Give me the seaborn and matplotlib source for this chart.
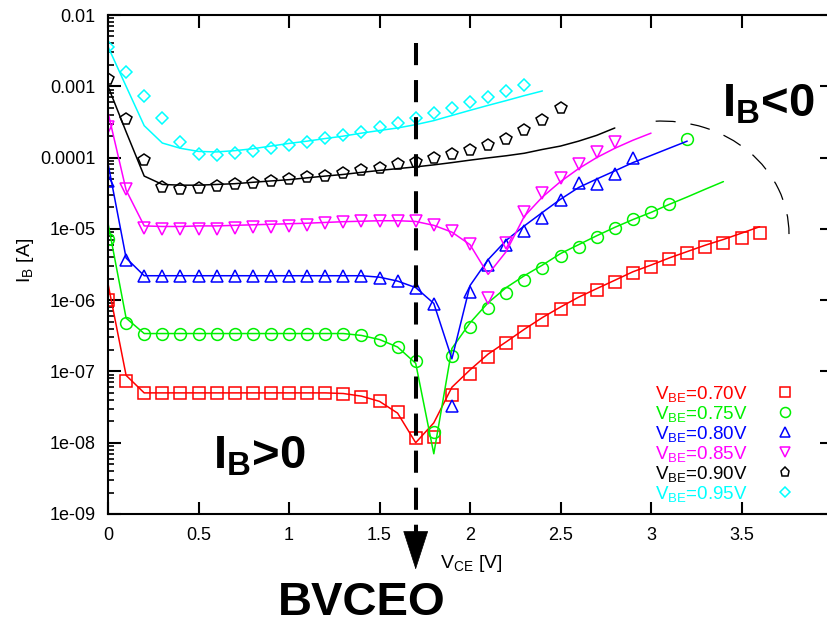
import numpy as np
import matplotlib
matplotlib.use("Agg")
import matplotlib.pyplot as plt
import seaborn as sns
from matplotlib.lines import Line2D
from matplotlib.patches import Arc
from matplotlib.ticker import FixedLocator, FixedFormatter, LogLocator, NullLocator, NullFormatter

sns.set_theme(style="ticks")
plt.rcParams["font.family"] = ["Liberation Sans", "DejaVu Sans"]
plt.rcParams["mathtext.fontset"] = "custom"
plt.rcParams["mathtext.rm"] = "Liberation Sans"
plt.rcParams["mathtext.it"] = "Liberation Sans:italic"
plt.rcParams["mathtext.bf"] = "Liberation Sans:bold"
for key in ["text.color", "axes.labelcolor", "xtick.color", "ytick.color", "axes.edgecolor"]:
    plt.rcParams[key] = "black"

# V_CE sweep grid [V]
vce = np.round(np.arange(0, 37) * 0.1, 1)

# Measured base current I_B [A] per V_BE (markers)
meas_070 = [1.0e-6, 7.3e-8] + [5.0e-8] * 11 + [4.9e-8, 4.4e-8, 3.9e-8, 2.7e-8, 1.15e-8, 1.2e-8,
            4.6e-8, 9.3e-8, 1.6e-7, 2.5e-7, 3.6e-7, 5.2e-7, 7.6e-7, 1.04e-6, 1.38e-6, 1.8e-6,
            2.4e-6, 2.9e-6, 3.8e-6, 4.6e-6, 5.6e-6, 6.3e-6, 7.4e-6, 8.7e-6]
meas_075 = [7.2e-6, 4.8e-7] + [3.4e-7] * 12 + [3.2e-7, 2.8e-7, 2.2e-7, 1.4e-7, 1.4e-8, 1.65e-7,
            4.2e-7, 7.7e-7, 1.26e-6, 1.9e-6, 2.8e-6, 4.1e-6, 5.6e-6, 7.8e-6, 1.03e-5, 1.37e-5,
            1.7e-5, 2.2e-5, 1.8e-4]
meas_080 = [4.7e-5, 3.6e-6] + [2.15e-6] * 13 + [2.05e-6, 1.85e-6, 1.5e-6, 8.9e-7, 3.3e-8, 1.3e-6,
            3.1e-6, 5.9e-6, 9.3e-6, 1.4e-5, 2.5e-5, 4.4e-5, 4.3e-5, 5.9e-5, 9.8e-5]
meas_085 = [2.7e-4, 3.6e-5, 1.03e-5, 1.0e-5, 1.0e-5, 1.0e-5, 1.0e-5, 1.03e-5, 1.05e-5, 1.07e-5,
            1.1e-5, 1.15e-5, 1.2e-5, 1.25e-5, 1.28e-5, 1.3e-5, 1.3e-5, 1.28e-5, 1.12e-5, 9.3e-6,
            6.1e-6, 1.07e-6, 6.3e-6, 1.7e-5, 3.2e-5, 5.2e-5, 8.1e-5, 1.2e-4, 1.66e-4]
meas_090 = [1.26e-3, 3.5e-4, 9.3e-5, 3.9e-5, 3.6e-5, 3.8e-5, 4.0e-5, 4.2e-5, 4.4e-5, 4.7e-5,
            5.0e-5, 5.3e-5, 5.6e-5, 6.0e-5, 6.6e-5, 7.2e-5, 8.0e-5, 8.6e-5, 9.9e-5, 1.12e-4,
            1.28e-4, 1.5e-4, 1.8e-4, 2.4e-4, 3.4e-4, 5.0e-4]
meas_095 = [3.6e-3, 1.6e-3, 7.4e-4, 3.6e-4, 1.65e-4, 1.12e-4, 1.1e-4, 1.17e-4, 1.25e-4, 1.35e-4,
            1.5e-4, 1.65e-4, 1.9e-4, 2.1e-4, 2.3e-4, 2.7e-4, 3.05e-4, 3.6e-4, 4.2e-4, 5.0e-4,
            6.0e-4, 7.1e-4, 8.6e-4, 1.04e-3]

# Simulated base current I_B [A] per V_BE (lines)
sim_070 = [1.7e-6, 8.8e-8] + [5.0e-8] * 11 + [4.9e-8, 4.5e-8, 3.8e-8, 2.6e-8, 1.0e-8, 1.9e-8,
           6.0e-8, 1.05e-7, 1.75e-7, 2.6e-7, 3.9e-7, 5.7e-7, 8.0e-7, 1.1e-6, 1.45e-6, 1.9e-6,
           2.5e-6, 3.1e-6, 3.9e-6, 4.8e-6, 5.9e-6, 7.1e-6, 8.7e-6, 1.07e-5]
sim_075 = [1.2e-5, 5.6e-7] + [3.4e-7] * 12 + [3.2e-7, 2.8e-7, 2.2e-7, 1.3e-7, 7.0e-9, 2.1e-7,
           4.8e-7, 9.2e-7, 1.5e-6, 2.2e-6, 3.1e-6, 4.5e-6, 6.0e-6, 8.0e-6, 1.05e-5, 1.35e-5,
           1.7e-5, 2.2e-5, 2.8e-5, 3.6e-5, 4.6e-5]
sim_080 = [8.3e-5, 3.9e-6] + [2.2e-6] * 13 + [2.1e-6, 1.85e-6, 1.5e-6, 9.0e-7, 1.5e-7, 1.6e-6,
           3.7e-6, 6.9e-6, 1.1e-5, 1.7e-5, 2.6e-5, 3.8e-5, 5.0e-5, 6.5e-5, 8.5e-5, 1.07e-4,
           1.35e-4, 1.7e-4]
sim_085 = [4.3e-4, 3.5e-5, 1.1e-5, 1.08e-5, 1.08e-5, 1.1e-5, 1.1e-5, 1.12e-5, 1.14e-5, 1.16e-5,
           1.18e-5, 1.2e-5, 1.23e-5, 1.26e-5, 1.28e-5, 1.3e-5, 1.3e-5, 1.27e-5, 1.12e-5, 9.0e-6,
           6.0e-6, 2.3e-6, 4.8e-6, 1.5e-5, 2.8e-5, 4.6e-5, 7.0e-5, 1.0e-4, 1.35e-4, 1.75e-4, 2.2e-4]
sim_090 = [1.0e-3, 2.3e-4, 5.5e-5, 4.2e-5, 4.1e-5, 4.1e-5, 4.2e-5, 4.3e-5, 4.5e-5, 4.7e-5,
           4.9e-5, 5.2e-5, 5.5e-5, 5.8e-5, 6.2e-5, 6.6e-5, 7.0e-5, 7.4e-5, 7.9e-5, 8.5e-5,
           9.2e-5, 9.9e-5, 1.06e-4, 1.15e-4, 1.3e-4, 1.45e-4, 1.7e-4, 2.05e-4, 2.6e-4]
sim_095 = [3.6e-3, 1.0e-3, 2.8e-4, 1.6e-4, 1.35e-4, 1.22e-4, 1.2e-4, 1.25e-4, 1.33e-4, 1.45e-4,
           1.58e-4, 1.7e-4, 1.85e-4, 2.0e-4, 2.2e-4, 2.4e-4, 2.6e-4, 2.9e-4, 3.3e-4, 3.9e-4,
           4.6e-4, 5.4e-4, 6.3e-4, 7.4e-4, 8.6e-4]

labels = [r"V$_{\mathrm{BE}}$=0.70V", r"V$_{\mathrm{BE}}$=0.75V", r"V$_{\mathrm{BE}}$=0.80V",
          r"V$_{\mathrm{BE}}$=0.85V", r"V$_{\mathrm{BE}}$=0.90V", r"V$_{\mathrm{BE}}$=0.95V"]
colors = ["#ff0000", "#00f000", "#0000ff", "#ff00ff", "#000000", "#00ffff"]
markers = ["s", "o", "^", "v", "p", "D"]
msizes = [8.5, 8.5, 8.5, 8.5, 8.5, 6.5]
legend_msizes = [7.2, 7.2, 7.2, 7.2, 6.8, 5.6]
measured = [meas_070, meas_075, meas_080, meas_085, meas_090, meas_095]
simulated = [sim_070, sim_075, sim_080, sim_085, sim_090, sim_095]

fig = plt.figure(figsize=(8.27, 6.21), dpi=100)
ax = fig.add_axes([108 / 827, 107 / 621, 724 / 827, 499 / 621])

for color, mk, ms, meas, sim in zip(colors, markers, msizes, measured, simulated):
    sns.lineplot(x=vce[:len(sim)], y=sim, color=color, lw=1.1, ax=ax,
                 estimator=None, sort=False, legend=False)
    sns.lineplot(x=vce[:len(meas)], y=meas, color=color, ax=ax, estimator=None, sort=False,
                 legend=False, linestyle="", marker=mk, markersize=ms,
                 markerfacecolor="none", markeredgecolor=color, markeredgewidth=1.1)

ax.set_yscale("log")
ax.set_xlim(0, 4.0)
ax.set_ylim(1e-9, 1e-2)

ytick_vals = [1e-9, 1e-8, 1e-7, 1e-6, 1e-5, 1e-4, 1e-3, 1e-2]
ytick_text = ["1e-09", "1e-08", "1e-07", "1e-06", "1e-05", "0.0001", "0.001", "0.01"]
xtick_vals = [0, 0.5, 1, 1.5, 2, 2.5, 3, 3.5]
xtick_text = ["0", "0.5", "1", "1.5", "2", "2.5", "3", "3.5"]
ax.yaxis.set_major_locator(FixedLocator(ytick_vals))
ax.yaxis.set_major_formatter(FixedFormatter(ytick_text))
ax.yaxis.set_minor_locator(LogLocator(base=10, subs=np.arange(2, 10)))
ax.yaxis.set_minor_formatter(NullFormatter())
ax.xaxis.set_major_locator(FixedLocator(xtick_vals))
ax.xaxis.set_major_formatter(FixedFormatter(xtick_text))
ax.xaxis.set_minor_locator(NullLocator())

ax.tick_params(which="major", direction="in", length=9, width=1.5, top=True, right=True,
               labelsize=13, pad=9, colors="black")
ax.tick_params(which="minor", direction="in", length=4.3, width=1.2, left=True, right=False)
for sp in ax.spines.values():
    sp.set_linewidth(1.5)
    sp.set_color("black")
ax.set_xlabel("")
ax.set_ylabel("")

fig.text(26 / 827, 1 - 260 / 621, r"I$_{\mathrm{B}}$ [A]", rotation=90, ha="center",
         va="center", fontsize=14)
fig.text(471 / 827, 1 - 568 / 621, r"V$_{\mathrm{CE}}$ [V]", ha="center", va="baseline",
         fontsize=14)

# Breakdown marker at BVCEO
bv = 1.7
ax.plot([bv, bv], [4.1e-3, 4.4e-10], color="black", lw=2.9, ls=(0, (5.5, 3.7)),
        clip_on=False, zorder=5)
ax.annotate("", xy=(bv, 1.66e-10), xytext=(bv, 5.4e-10), annotation_clip=False,
            arrowprops=dict(arrowstyle="-|>,head_length=2.66,head_width=0.86",
                            mutation_scale=10, color="black", lw=0.5,
                            shrinkA=0, shrinkB=0))

# Region of negative base current
ax.add_patch(Arc((0.7652, 0.561), 0.3508, 0.4529, theta1=0, theta2=93,
                 transform=ax.transAxes, color="black", lw=0.9, ls=(0, (16, 12)),
                 clip_on=False))

fig.text(213 / 827, 1 - 468 / 621, r"I$_{\mathbf{B}}$>0", fontsize=34, weight="bold",
         ha="left", va="baseline")
fig.text(722 / 827, 1 - 117 / 621, r"I$_{\mathbf{B}}$<0", fontsize=34, weight="bold",
         ha="left", va="baseline")
fig.text(278 / 827, 1 - 615 / 621, "BVCEO", fontsize=34, weight="bold",
         ha="left", va="baseline")

handles = [Line2D([], [], linestyle="", marker=m, markersize=s, markerfacecolor="none",
                  markeredgecolor=c, markeredgewidth=1.1)
           for m, s, c in zip(markers, legend_msizes, colors)]
ax.legend(handles, labels, loc="upper left", bbox_to_anchor=(0.7555, 0.2605),
          frameon=False, markerfirst=False, handlelength=1.0, handletextpad=1.5,
          labelspacing=0.0, fontsize=13.5, borderpad=0, borderaxespad=0,
          labelcolor=colors)

fig.savefig("out.png", dpi=100)
